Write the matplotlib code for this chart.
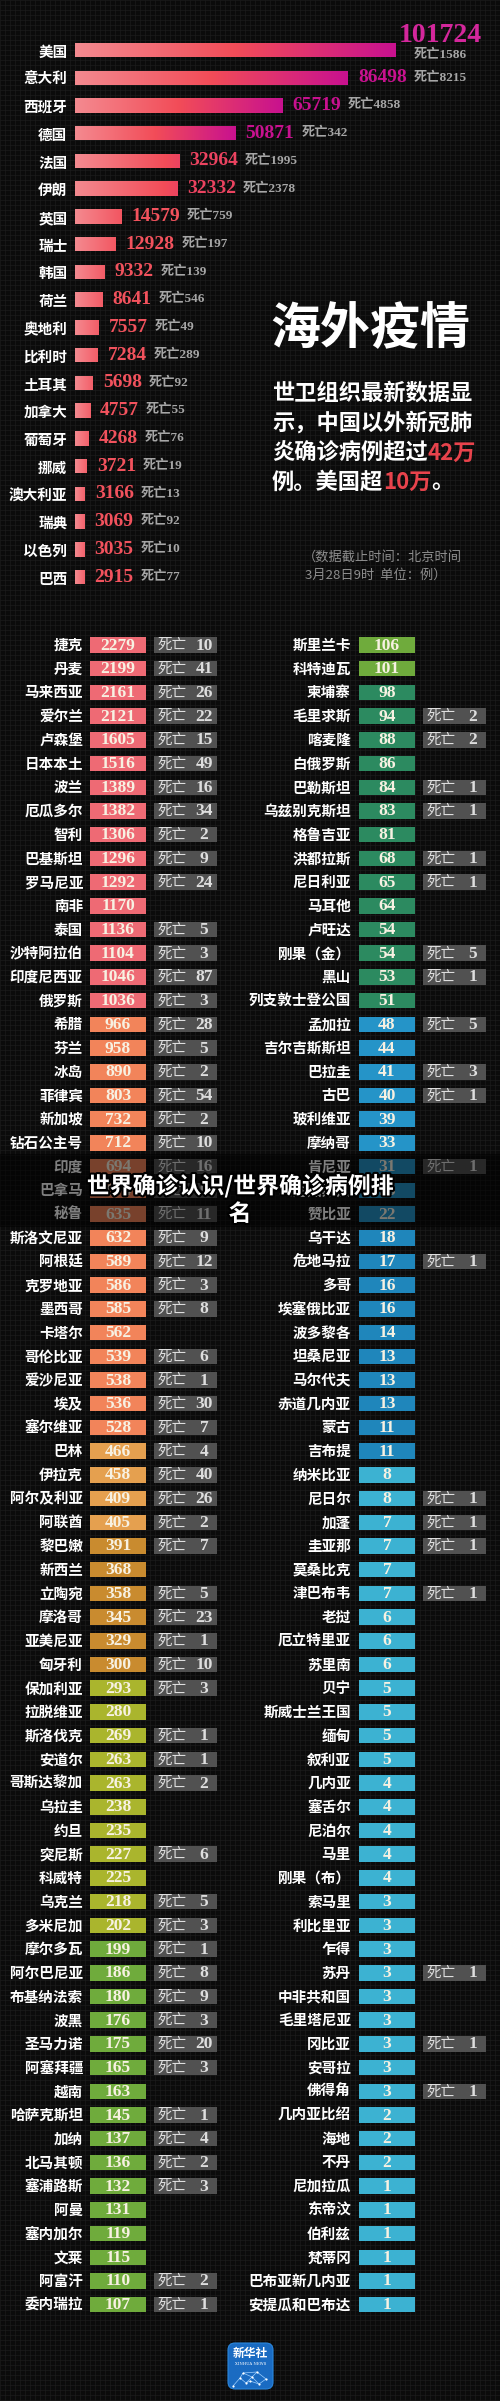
import numpy as np
import matplotlib
matplotlib.use('Agg')
import matplotlib.pyplot as plt
from matplotlib.collections import LineCollection
from matplotlib.patches import FancyBboxPatch, Rectangle
from matplotlib.colors import LinearSegmentedColormap
import matplotlib.patheffects as pe

CJK = ['Noto Sans CJK SC', 'DejaVu Sans']
SERIF = ['Liberation Serif', 'Noto Sans CJK SC', 'DejaVu Sans']

# ---------------- data ----------------
top_countries = ['美国', '意大利', '西班牙', '德国', '法国', '伊朗', '英国', '瑞士', '韩国', '荷兰',
                 '奥地利', '比利时', '土耳其', '加拿大', '葡萄牙', '挪威', '澳大利亚', '瑞典', '以色列', '巴西']
top_cases = [101724, 86498, 65719, 50871, 32964, 32332, 14579, 12928, 9332, 8641,
             7557, 7284, 5698, 4757, 4268, 3721, 3166, 3069, 3035, 2915]
top_deaths = [1586, 8215, 4858, 342, 1995, 2378, 759, 197, 139, 546,
              49, 289, 92, 55, 76, 19, 13, 92, 10, 77]

left_countries = ['捷克', '丹麦', '马来西亚', '爱尔兰', '卢森堡', '日本本土', '波兰', '厄瓜多尔', '智利', '巴基斯坦',
                  '罗马尼亚', '南非', '泰国', '沙特阿拉伯', '印度尼西亚', '俄罗斯', '希腊', '芬兰', '冰岛', '菲律宾',
                  '新加坡', '钻石公主号', '印度', '巴拿马', '秘鲁', '斯洛文尼亚', '阿根廷', '克罗地亚', '墨西哥', '卡塔尔',
                  '哥伦比亚', '爱沙尼亚', '埃及', '塞尔维亚', '巴林', '伊拉克', '阿尔及利亚', '阿联酋', '黎巴嫩', '新西兰',
                  '立陶宛', '摩洛哥', '亚美尼亚', '匈牙利', '保加利亚', '拉脱维亚', '斯洛伐克', '安道尔', '哥斯达黎加', '乌拉圭',
                  '约旦', '突尼斯', '科威特', '乌克兰', '多米尼加', '摩尔多瓦', '阿尔巴尼亚', '布基纳法索', '波黑', '圣马力诺',
                  '阿塞拜疆', '越南', '哈萨克斯坦', '加纳', '北马其顿', '塞浦路斯', '阿曼', '塞内加尔', '文莱', '阿富汗',
                  '委内瑞拉']
left_cases = [2279, 2199, 2161, 2121, 1605, 1516, 1389, 1382, 1306, 1296,
              1292, 1170, 1136, 1104, 1046, 1036, 966, 958, 890, 803,
              732, 712, 694, 674, 635, 632, 589, 586, 585, 562,
              539, 538, 536, 528, 466, 458, 409, 405, 391, 368,
              358, 345, 329, 300, 293, 280, 269, 263, 263, 238,
              235, 227, 225, 218, 202, 199, 186, 180, 176, 175,
              165, 163, 145, 137, 136, 132, 131, 119, 115, 110,
              107]
left_deaths = [10, 41, 26, 22, 15, 49, 16, 34, 2, 9,
               24, None, 5, 3, 87, 3, 28, 5, 2, 54,
               2, 10, 16, 9, 11, 9, 12, 3, 8, None,
               6, 1, 30, 7, 4, 40, 26, 2, 7, None,
               5, 23, 1, 10, 3, None, 1, 1, 2, None,
               None, 6, None, 5, 3, 1, 8, 9, 3, 20,
               3, None, 1, 4, 2, 3, None, None, None, 2,
               1]

right_countries = ['斯里兰卡', '科特迪瓦', '柬埔寨', '毛里求斯', '喀麦隆', '白俄罗斯', '巴勒斯坦', '乌兹别克斯坦', '格鲁吉亚', '洪都拉斯',
                   '尼日利亚', '马耳他', '卢旺达', '刚果（金）', '黑山', '列支敦士登公国', '孟加拉', '吉尔吉斯斯坦', '巴拉圭', '古巴',
                   '玻利维亚', '摩纳哥', '肯尼亚', '马达加斯加', '赞比亚', '乌干达', '危地马拉', '多哥', '埃塞俄比亚', '波多黎各',
                   '坦桑尼亚', '马尔代夫', '赤道几内亚', '蒙古', '吉布提', '纳米比亚', '尼日尔', '加蓬', '圭亚那', '莫桑比克',
                   '津巴布韦', '老挝', '厄立特里亚', '苏里南', '贝宁', '斯威士兰王国', '缅甸', '叙利亚', '几内亚', '塞舌尔',
                   '尼泊尔', '马里', '刚果（布）', '索马里', '利比里亚', '乍得', '苏丹', '中非共和国', '毛里塔尼亚', '冈比亚',
                   '安哥拉', '佛得角', '几内亚比绍', '海地', '不丹', '尼加拉瓜', '东帝汶', '伯利兹', '梵蒂冈', '巴布亚新几内亚',
                   '安提瓜和巴布达']
right_cases = [106, 101, 98, 94, 88, 86, 84, 83, 81, 68,
               65, 64, 54, 54, 53, 51, 48, 44, 41, 40,
               39, 33, 31, 26, 22, 18, 17, 16, 16, 14,
               13, 13, 13, 11, 11, 8, 8, 7, 7, 7,
               7, 6, 6, 6, 5, 5, 5, 5, 4, 4,
               4, 4, 4, 3, 3, 3, 3, 3, 3, 3,
               3, 3, 2, 2, 2, 1, 1, 1, 1, 1,
               1]
right_deaths = [None, None, None, 2, 2, None, 1, 1, None, 1,
                1, None, None, 5, 1, None, 5, None, 3, 1,
                None, None, 1, None, None, None, 1, None, None, None,
                None, None, None, None, None, None, 1, 1, 1, None,
                1, None, None, None, None, None, None, None, None, None,
                None, None, None, None, None, None, 1, None, None, 1,
                None, 1, None, None, None, None, None, None, None, None,
                None]

# ---------------- figure ----------------
W, H = 500, 2401
fig = plt.figure(figsize=(W / 100, H / 100), dpi=100)
fig.patch.set_facecolor('#0b0b0b')
bg = fig.add_axes([0, 0, 1, 1])
bg.set_xlim(0, W)
bg.set_ylim(H, 0)
bg.axis('off')

# background grid texture
xs = np.arange(0, W + 1, 5)
ys = np.arange(0, H + 1, 5)
segs = [[(x, 0), (x, H)] for x in xs] + [[(0, y), (W, y)] for y in ys]
bg.add_collection(LineCollection(segs, colors='#1c1c1c', linewidths=0.5, zorder=0))

# ---------------- top bar chart ----------------
n = len(top_countries)
row0, row_step = 50, 27.74
y_top = row0 - row_step / 2
y_bot = row0 + (n - 1) * row_step + row_step / 2
x0, x1 = 75, 396
ax = fig.add_axes([x0 / W, 1 - y_bot / H, (x1 - x0) / W, (y_bot - y_top) / H])
ax.set_facecolor('none')
for s in ax.spines.values():
    s.set_visible(False)

vmax = max(top_cases)
bars = ax.barh(range(n), top_cases, height=0.52, color='none', zorder=2)
cmap = LinearSegmentedColormap.from_list('g', ['#f48a90', '#f24c58', '#c8118f'])
for i, (b, v, d) in enumerate(zip(bars, top_cases, top_deaths)):
    r = v / vmax
    t_end = float(np.interp(r, [0, 0.35, 0.5, 1.0], [0.3, 0.6, 1.0, 1.0]))
    grad = np.linspace(0, t_end, 256).reshape(1, -1)
    im = ax.imshow(grad, cmap=cmap, vmin=0, vmax=1, extent=(0, v, i + 0.26, i - 0.26),
                   aspect='auto', interpolation='bilinear', zorder=2)
    im.set_clip_path(b)
    vcol = cmap(max(t_end, 0.45))
    if i == 0:
        ax.annotate(f'{v}', xy=(v, i), xytext=(44, 14), textcoords='offset pixels',
                    ha='center', va='center', fontsize=20, fontweight='bold',
                    family=SERIF, color='#d4279c', annotation_clip=False)
        ax.annotate(f'死亡{d}', xy=(v, i), xytext=(44, -5), textcoords='offset pixels',
                    ha='center', va='center', fontsize=9.5, fontweight='bold',
                    family=SERIF, color='#a6a6a6', annotation_clip=False)
    else:
        t = ax.annotate(f'{v}', xy=(v, i), xytext=(10, 0), textcoords='offset pixels',
                        ha='left', va='center', fontsize=14, fontweight='bold',
                        family=SERIF, color=vcol, annotation_clip=False)
        ax.annotate(f'死亡{d}', xy=(1, 0.5), xycoords=t, xytext=(7, 0),
                    textcoords='offset pixels', ha='left', va='center', fontsize=9.5,
                    fontweight='bold', family=SERIF, color='#a6a6a6')

ax.set_xlim(0, vmax)
ax.set_ylim(n - 0.5, -0.5)
ax.set_xticks([])
ax.set_yticks(range(n))
ax.set_yticklabels(top_countries, fontsize=10.5, fontweight='bold', color='white', family=CJK)
ax.tick_params(axis='y', length=0, pad=5.5)

# ---------------- headline block ----------------
bg.text(370, 330, '海外疫情', ha='center', va='center', fontsize=36, fontweight='bold',
        color='white', family=CJK)


def seg_line(parts, x, y, fs=16):
    t = bg.text(x, y, parts[0][0], ha='left', va='center', fontsize=fs, fontweight='bold',
                color=parts[0][1], family=CJK)
    for s, c in parts[1:]:
        t = bg.annotate(s, xy=(1, 0), xycoords=t, xytext=(0, 0), textcoords='offset points',
                        ha='left', va='bottom', fontsize=fs, fontweight='bold', color=c,
                        family=CJK)


RED = '#e8434c'
seg_line([('世卫组织最新数据显', 'white')], 272, 393)
seg_line([('示，中国以外新冠肺', 'white')], 272, 423)
seg_line([('炎确诊病例超过', 'white'), ('42万', RED)], 272, 453)
seg_line([('例。美国超', 'white'), ('10万', RED), ('。', 'white')], 272, 482)

bg.text(303, 557, '（数据截止时间：北京时间', ha='left', va='center', fontsize=9.5,
        color='#8e8e8e', family=CJK)
bg.text(305, 575, '3月28日9时  单位：例）', ha='left', va='center', fontsize=9.5,
        color='#8e8e8e', family=CJK)

# ---------------- tables ----------------


def case_color(v):
    if v >= 1000:
        return '#ee6a74'
    if v >= 500:
        return '#f2845a'
    if v >= 400:
        return '#e5a04f'
    if v >= 300:
        return '#c98b2f'
    if v >= 200:
        return '#aab52d'
    if v >= 100:
        return '#6fab3c'
    if v >= 50:
        return '#2c8a60'
    if v >= 20:
        return '#2594c8'
    if v >= 10:
        return '#1f86bb'
    return '#3cb2d2'


t_row0, t_step, box_h = 645, 23.71, 15.5


def draw_table(names, cases, deaths, name_x, box_x, d_x, box_w=56, d_w=63):
    yy = t_row0 + np.arange(len(names)) * t_step
    bg.barh(yy, [box_w] * len(names), left=box_x, height=box_h,
            color=[case_color(v) for v in cases], zorder=2)
    dy = [y for y, d in zip(yy, deaths) if d is not None]
    bg.barh(dy, [d_w] * len(dy), left=d_x, height=box_h, color='#515151', zorder=2)
    for y, nm, v, d in zip(yy, names, cases, deaths):
        bg.text(name_x, y, nm, ha='right', va='center', fontsize=10.5, fontweight='bold',
                color='white', family=CJK, zorder=3)
        bg.text(box_x + box_w / 2, y + 0.5, f'{v}', ha='center', va='center', fontsize=12.5,
                fontweight='bold', color='#f7f1e2', family=SERIF, zorder=3)
        if d is not None:
            bg.text(d_x + 4, y, '死亡', ha='left', va='center', fontsize=10.5,
                    color='#dedede', family=CJK, zorder=3)
            bg.text(d_x + 50, y + 0.5, f'{d}', ha='center', va='center', fontsize=12.5,
                    fontweight='bold', color='#dedede', family=SERIF, zorder=3)


draw_table(left_countries, left_cases, left_deaths, 83, 90, 154)
draw_table(right_countries, right_cases, right_deaths, 351, 359, 423)

# overlay caption band
bg.add_patch(Rectangle((0, 1154), W, 73, facecolor='black', alpha=0.5, zorder=5, lw=0))
bg.text(240, 1200, '世界确诊认识/世界确诊病例排\n名', ha='center', va='center',
        multialignment='center', fontsize=16.5, fontweight='bold', color='white',
        family=CJK, linespacing=1.25, zorder=6,
        path_effects=[pe.withStroke(linewidth=3, foreground='black')])

# ---------------- logo ----------------
bg.add_patch(FancyBboxPatch((228, 2343), 45, 46, boxstyle='round,pad=0,rounding_size=7',
                            facecolor='#1a6bc2', edgecolor='#2a86dc', lw=0.8, zorder=3))
bg.text(250.5, 2354, '新华社', ha='center', va='center', fontsize=8.5, fontweight='bold',
        color='white', family=CJK, zorder=4)
bg.text(250.5, 2364, 'XINHUA NEWS', ha='center', va='center', fontsize=2.8,
        color='white', family=['DejaVu Serif'], zorder=4)
nx = [233, 240, 246, 252, 259, 266, 243, 257, 250]
ny = [2386, 2378, 2383, 2377, 2384, 2379, 2373, 2372, 2381]
net = [[(nx[a], ny[a]), (nx[b], ny[b])] for a, b in
       [(0, 1), (1, 2), (2, 3), (3, 4), (4, 5), (1, 6), (6, 3), (3, 7), (7, 5), (2, 8), (8, 4), (6, 7)]]
bg.add_collection(LineCollection(net, colors='#9fd0ff', linewidths=0.5, zorder=4))
bg.scatter(nx, ny, s=2.5, color='white', zorder=5, lw=0)

fig.savefig('out.png', dpi=100, facecolor=fig.get_facecolor())
